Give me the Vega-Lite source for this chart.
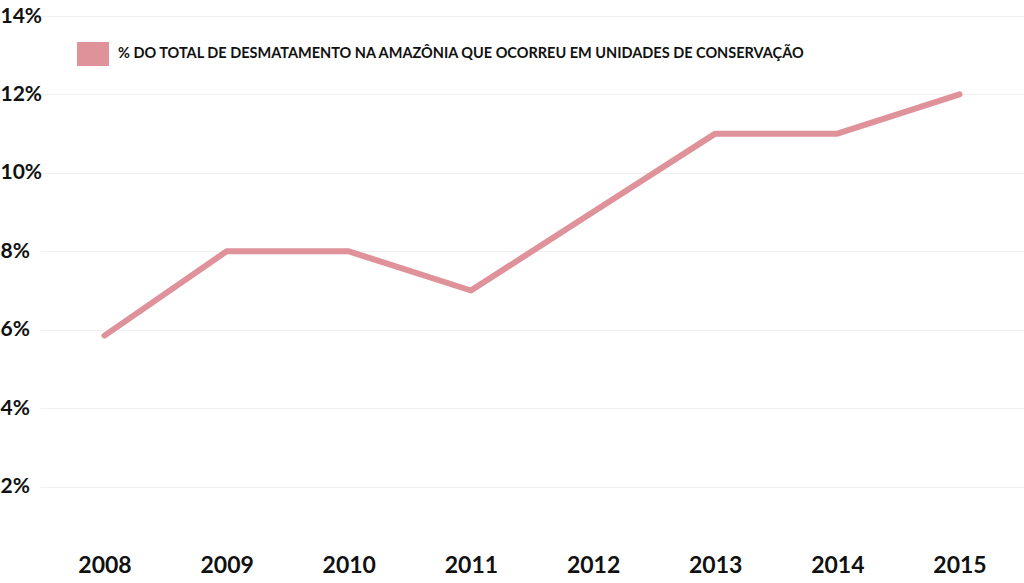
{
  "$schema": "https://vega.github.io/schema/vega-lite/v6.json",
  "width": 984,
  "height": 549,
  "autosize": {"type": "none"},
  "padding": {"left": 40, "top": 16, "right": 0, "bottom": 18},
  "background": "white",
  "config": {"view": {"stroke": null}},
  "data": {
    "values": [
      {"ano": "2008", "pct": 5.85, "serie": "% DO TOTAL DE  DESMATAMENTO NA AMAZÔNIA QUE OCORREU EM UNIDADES DE CONSERVAÇÃO"},
      {"ano": "2009", "pct": 8, "serie": "% DO TOTAL DE  DESMATAMENTO NA AMAZÔNIA QUE OCORREU EM UNIDADES DE CONSERVAÇÃO"},
      {"ano": "2010", "pct": 8, "serie": "% DO TOTAL DE  DESMATAMENTO NA AMAZÔNIA QUE OCORREU EM UNIDADES DE CONSERVAÇÃO"},
      {"ano": "2011", "pct": 7, "serie": "% DO TOTAL DE  DESMATAMENTO NA AMAZÔNIA QUE OCORREU EM UNIDADES DE CONSERVAÇÃO"},
      {"ano": "2012", "pct": 9, "serie": "% DO TOTAL DE  DESMATAMENTO NA AMAZÔNIA QUE OCORREU EM UNIDADES DE CONSERVAÇÃO"},
      {"ano": "2013", "pct": 11, "serie": "% DO TOTAL DE  DESMATAMENTO NA AMAZÔNIA QUE OCORREU EM UNIDADES DE CONSERVAÇÃO"},
      {"ano": "2014", "pct": 11, "serie": "% DO TOTAL DE  DESMATAMENTO NA AMAZÔNIA QUE OCORREU EM UNIDADES DE CONSERVAÇÃO"},
      {"ano": "2015", "pct": 12, "serie": "% DO TOTAL DE  DESMATAMENTO NA AMAZÔNIA QUE OCORREU EM UNIDADES DE CONSERVAÇÃO"}
    ]
  },
  "mark": {"type": "line", "strokeWidth": 6, "strokeCap": "round", "strokeJoin": "round"},
  "encoding": {
    "x": {
      "field": "ano",
      "type": "ordinal",
      "scale": {"type": "point", "padding": 0.528},
      "axis": {
        "title": null,
        "domain": false,
        "ticks": false,
        "labelAngle": 0,
        "labelBaseline": "middle",
        "labelPadding": 0,
        "labelFont": "Lato",
        "labelFontWeight": "bold",
        "labelFontSize": 23,
        "labelColor": "#111111"
      }
    },
    "y": {
      "field": "pct",
      "type": "quantitative",
      "scale": {"domain": [0, 14], "nice": false, "zero": true},
      "axis": {
        "title": null,
        "values": [2, 4, 6, 8, 10, 12, 14],
        "labelExpr": "datum.value + '%'",
        "domain": false,
        "ticks": false,
        "grid": true,
        "gridColor": "#f0f0f0",
        "gridWidth": 1,
        "labelAlign": "left",
        "labelBaseline": "middle",
        "labelPadding": 40,
        "labelFont": "Lato",
        "labelFontWeight": "bold",
        "labelFontSize": 21,
        "labelColor": "#111111"
      }
    },
    "color": {
      "field": "serie",
      "type": "nominal",
      "scale": {"range": ["#e0929a"]},
      "legend": {
        "title": null,
        "orient": "none",
        "legendX": 37,
        "legendY": 22,
        "symbolType": "M-1,-0.75H1V0.75H-1Z",
        "symbolSize": 1024,
        "symbolFillColor": "#e0929a",
        "symbolStrokeColor": "#e0929a",
        "symbolStrokeWidth": 0,
        "symbolOpacity": 1,
        "labelOffset": 9,
        "labelFont": "Lato",
        "labelFontWeight": "bold",
        "labelFontSize": 14.5,
        "labelColor": "#111111",
        "labelLimit": 900
      }
    }
  }
}
